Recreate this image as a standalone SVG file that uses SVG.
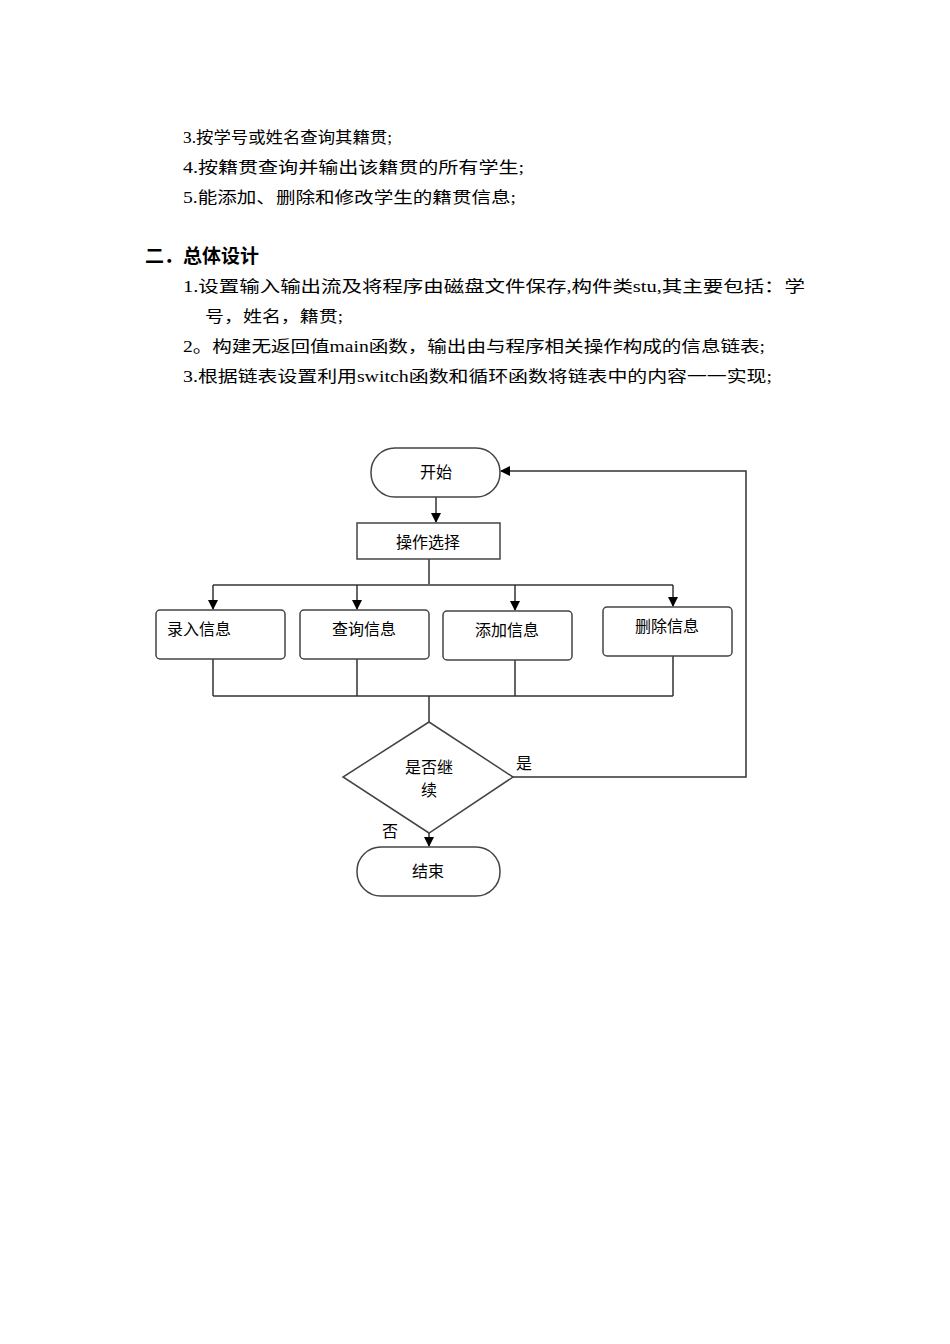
<svg xmlns="http://www.w3.org/2000/svg" width="950" height="1344" viewBox="0 0 950 1344">
<style>
.t{font-family:"Liberation Serif","Noto Sans CJK SC",serif;font-size:16px;fill:#000}
.h{font-family:"Noto Sans CJK SC",sans-serif;font-size:19px;font-weight:bold;fill:#000}
.n{font-family:"Noto Sans CJK SC",sans-serif;font-size:16px;fill:#000}
.s{fill:#fff;stroke:#444;stroke-width:1.5}
.c{fill:none;stroke:#333;stroke-width:1.5}
</style>
<defs><marker id="a" markerWidth="10" markerHeight="10" refX="9" refY="5" orient="auto" markerUnits="userSpaceOnUse"><path d="M0,0 L10,5 L0,10 z" fill="#000"/></marker></defs>
<rect width="950" height="1344" fill="#fff"/>
<text class="t" x="183" y="143" textLength="209" lengthAdjust="spacingAndGlyphs">3.按学号或姓名查询其籍贯;</text>
<text class="t" x="183" y="173" textLength="341" lengthAdjust="spacingAndGlyphs">4.按籍贯查询并输出该籍贯的所有学生;</text>
<text class="t" x="183" y="203" textLength="333" lengthAdjust="spacingAndGlyphs">5.能添加、删除和修改学生的籍贯信息;</text>
<text class="h" x="145" y="263">二．总体设计</text>
<text class="t" x="183" y="292" textLength="622" lengthAdjust="spacingAndGlyphs">1.设置输入输出流及将程序由磁盘文件保存,构件类stu,其主要包括：学</text>
<text class="t" x="205" y="322" textLength="138" lengthAdjust="spacingAndGlyphs">号，姓名，籍贯;</text>
<text class="t" x="183" y="352" textLength="582" lengthAdjust="spacingAndGlyphs">2。构建无返回值main函数，输出由与程序相关操作构成的信息链表;</text>
<text class="t" x="183" y="382" textLength="589" lengthAdjust="spacingAndGlyphs">3.根据链表设置利用switch函数和循环函数将链表中的内容一一实现;</text>
<g id="connectors">
<path class="c" d="M436,497 V522" marker-end="url(#a)"/>
<path class="c" d="M429,559 V584"/>
<path class="c" d="M213,585 H673"/>
<path class="c" d="M213,585 V609" marker-end="url(#a)"/>
<path class="c" d="M357,585 V609" marker-end="url(#a)"/>
<path class="c" d="M515,585 V610" marker-end="url(#a)"/>
<path class="c" d="M673,585 V606" marker-end="url(#a)"/>
<path class="c" d="M213,659 V696 M357,659 V696 M515,660 V696 M673,656 V696 M213,696 H673 M429,696 V722"/>
<path class="c" d="M513,777 H746 V471 H501" marker-end="url(#a)"/>
<path class="c" d="M429,833 V846" marker-end="url(#a)"/>
</g>
<g id="start"><rect class="s" x="371" y="448" width="129" height="49" rx="24"/><text class="n" x="436" y="478" text-anchor="middle">开始</text></g>
<g id="select"><rect class="s" x="357" y="523" width="143" height="36"/><text class="n" x="428" y="548" text-anchor="middle" font-size="18">操作选择</text></g>
<g id="n1"><rect class="s" x="156" y="610" width="129" height="49" rx="4"/><text class="n" x="167" y="635">录入信息</text></g>
<g id="n2"><rect class="s" x="300" y="610" width="129" height="49" rx="4"/><text class="n" x="364" y="635" text-anchor="middle">查询信息</text></g>
<g id="n3"><rect class="s" x="443" y="611" width="129" height="49" rx="4"/><text class="n" x="507" y="636" text-anchor="middle">添加信息</text></g>
<g id="n4"><rect class="s" x="603" y="607" width="129" height="49" rx="4"/><text class="n" x="667" y="632" text-anchor="middle">删除信息</text></g>
<g id="decision"><path class="s" d="M429,722 L513,777 L429,833 L343,777 Z"/><text class="n" x="429" y="773" text-anchor="middle">是否继</text><text class="n" x="429" y="796" text-anchor="middle">续</text></g>
<text class="n" x="516" y="769">是</text>
<text class="n" x="382" y="837">否</text>
<g id="end"><rect class="s" x="357" y="847" width="143" height="49" rx="24"/><text class="n" x="428" y="877" text-anchor="middle">结束</text></g>
</svg>
